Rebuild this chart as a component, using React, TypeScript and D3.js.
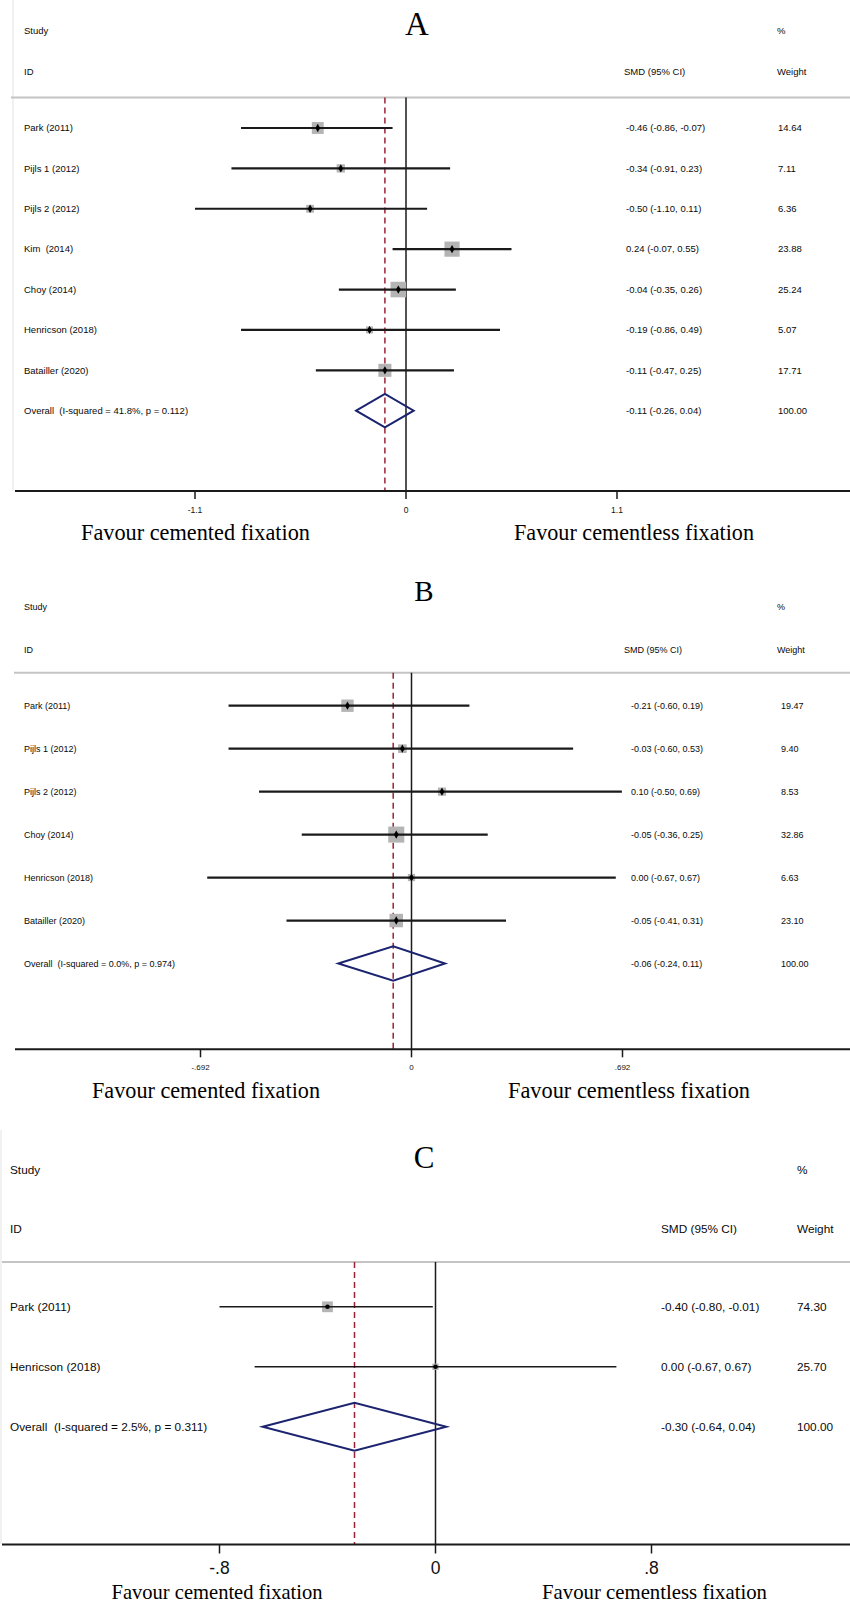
import React from "react";
import * as d3 from "d3";

// ---- data: panel A ----
const studiesA = ["Park (2011)", "Pijls 1 (2012)", "Pijls 2 (2012)", "Kim  (2014)", "Choy (2014)", "Henricson (2018)", "Batailler (2020)"];
const smdA = [-0.46, -0.34, -0.5, 0.24, -0.04, -0.19, -0.11];
const lowerA = [-0.86, -0.91, -1.1, -0.07, -0.35, -0.86, -0.47];
const upperA = [-0.07, 0.23, 0.11, 0.55, 0.26, 0.49, 0.25];
const weightA = [14.64, 7.11, 6.36, 23.88, 25.24, 5.07, 17.71];
const overallA = [-0.11, -0.26, 0.04];
const overallLabelA = "Overall  (I-squared = 41.8%, p = 0.112)";
const ticksA = [-1.1, 0, 1.1];
const tickLabelsA = ["-1.1", "0", "1.1"];

// ---- data: panel B ----
const studiesB = ["Park (2011)", "Pijls 1 (2012)", "Pijls 2 (2012)", "Choy (2014)", "Henricson (2018)", "Batailler (2020)"];
const smdB = [-0.21, -0.03, 0.1, -0.05, 0.0, -0.05];
const lowerB = [-0.6, -0.6, -0.5, -0.36, -0.67, -0.41];
const upperB = [0.19, 0.53, 0.69, 0.25, 0.67, 0.31];
const weightB = [19.47, 9.4, 8.53, 32.86, 6.63, 23.1];
const overallB = [-0.06, -0.24, 0.11];
const overallLabelB = "Overall  (I-squared = 0.0%, p = 0.974)";
const ticksB = [-0.692, 0, 0.692];
const tickLabelsB = ["-.692", "0", ".692"];

// ---- data: panel C ----
const studiesC = ["Park (2011)", "Henricson (2018)"];
const smdC = [-0.4, 0.0];
const lowerC = [-0.8, -0.67];
const upperC = [-0.01, 0.67];
const weightC = [74.3, 25.7];
const overallC = [-0.3, -0.64, 0.04];
const overallLabelC = "Overall  (I-squared = 2.5%, p = 0.311)";
const ticksC = [-0.8, 0, 0.8];
const tickLabelsC = ["-.8", "0", ".8"];

const leftLabel = "Favour cemented fixation";
const rightLabel = "Favour cementless fixation";

const SANS = "'Liberation Sans', Arial, sans-serif";
const SERIF = "'Liberation Serif', 'Times New Roman', serif";
// plain hyphen minus, like Stata prints it
const f2 = d3.formatLocale({ decimal: ".", thousands: ",", grouping: [3], currency: ["", ""], minus: "-" }).format(".2f");

type Layout = {
  title: string; titleX: number; titleY: number; titleSize: number;
  headY1: number; headY2: number; labelX: number; headSmdX: number; smdX: number; weightX: number; headWeightX: number;
  gridY: number; gridX0: number;
  rowFirst: number; rowLast: number;
  axisY: number; axisX0: number; tickLen: number; tickLabelY: number; tickFont: number;
  xRange: [number, number];
  favourY: number; favourL: [number, number]; favourR: [number, number]; favourSize: number;
  fontSize: number; boxK: number; ciWidth: number; diamondH: number; pointSize: number; pointShape: "diamond" | "circle";
  border?: [number, number, number];
};

type PanelProps = {
  studies: string[]; smd: number[]; lower: number[]; upper: number[]; weight: number[];
  overall: number[]; overallLabel: string; ticks: number[]; tickLabels: string[]; L: Layout;
};

function Panel({ studies, smd, lower, upper, weight, overall, overallLabel, ticks, tickLabels, L }: PanelProps) {
  const x = d3.scaleLinear().domain([ticks[0], ticks[ticks.length - 1]]).range(L.xRange);
  const rows = d3.range(studies.length + 1);
  const y = d3.scalePoint<number>().domain(rows).range([L.rowFirst, L.rowLast]);
  const yOverall = y(studies.length) as number;
  const sym = d3.symbol().type(L.pointShape === "diamond" ? d3.symbolDiamond : d3.symbolCircle).size(L.pointSize);
  const diamond = d3.line()([
    [x(overall[1]), yOverall],
    [x(overall[0]), yOverall - L.diamondH],
    [x(overall[2]), yOverall],
    [x(overall[0]), yOverall + L.diamondH],
  ]) + "Z";
  const txt = { fontFamily: SANS, fontSize: L.fontSize, fill: "#0a0a0a", whiteSpace: "pre" as const };

  return (
    <g>
      {L.border && <line x1={L.border[0]} x2={L.border[0]} y1={L.border[1]} y2={L.border[2]} stroke="#ececec" strokeWidth={1.5} />}
      <text x={L.titleX} y={L.titleY} textAnchor="middle" fontFamily={SERIF} fontSize={L.titleSize} fill="#000">{L.title}</text>

      <text x={L.labelX} y={L.headY1} dy="0.35em" style={txt}>Study</text>
      <text x={L.headWeightX} y={L.headY1} dy="0.35em" style={txt}>%</text>
      <text x={L.labelX} y={L.headY2} dy="0.35em" style={txt}>ID</text>
      <text x={L.headSmdX} y={L.headY2} dy="0.35em" style={txt}>SMD (95% CI)</text>
      <text x={L.headWeightX} y={L.headY2} dy="0.35em" style={txt}>Weight</text>

      <line x1={L.gridX0} x2={850} y1={L.gridY} y2={L.gridY} stroke="#c4c4c4" strokeWidth={2} />

      {/* no-effect line and overall dashed line */}
      <line x1={x(0)} x2={x(0)} y1={L.gridY} y2={L.axisY} stroke="#1a1a1a" strokeWidth={1.5} />
      <line x1={x(overall[0])} x2={x(overall[0])} y1={L.gridY} y2={L.axisY} stroke="#9b2335" strokeWidth={1.5} strokeDasharray="6,4" />

      {studies.map((s, i) => {
        const yy = y(i) as number;
        const side = L.boxK * Math.sqrt(weight[i]);
        return (
          <g key={s}>
            <text x={L.labelX} y={yy} dy="0.35em" style={txt}>{s}</text>
            <rect x={x(smd[i]) - side / 2} y={yy - side / 2} width={side} height={side} fill="#b4b4b4" />
            <line x1={x(lower[i])} x2={x(upper[i])} y1={yy} y2={yy} stroke="#1a1a1a" strokeWidth={L.ciWidth} />
            <path d={sym() as string} transform={`translate(${x(smd[i])},${yy})`} fill="#000" />
            <text x={L.smdX} y={yy} dy="0.35em" style={txt}>{`${f2(smd[i])} (${f2(lower[i])}, ${f2(upper[i])})`}</text>
            <text x={L.weightX} y={yy} dy="0.35em" style={txt}>{f2(weight[i])}</text>
          </g>
        );
      })}

      <text x={L.labelX} y={yOverall} dy="0.35em" style={txt}>{overallLabel}</text>
      <path d={diamond} fill="none" stroke="#1c2470" strokeWidth={2} />
      <text x={L.smdX} y={yOverall} dy="0.35em" style={txt}>{`${f2(overall[0])} (${f2(overall[1])}, ${f2(overall[2])})`}</text>
      <text x={L.weightX} y={yOverall} dy="0.35em" style={txt}>{f2(100)}</text>

      {/* x axis */}
      <line x1={L.axisX0} x2={850} y1={L.axisY} y2={L.axisY} stroke="#1a1a1a" strokeWidth={2} />
      {ticks.map((t, i) => (
        <g key={t}>
          <line x1={x(t)} x2={x(t)} y1={L.axisY} y2={L.axisY + L.tickLen} stroke="#1a1a1a" strokeWidth={1.5} />
          <text x={x(t)} y={L.tickLabelY} dy="0.35em" textAnchor="middle" fontFamily={SANS} fontSize={L.tickFont} fill="#111">{tickLabels[i]}</text>
        </g>
      ))}

      <text x={L.favourL[0]} y={L.favourY} dy="0.35em" textAnchor="middle" fontFamily={SERIF} fontSize={L.favourSize}
        textLength={L.favourL[1]} lengthAdjust="spacingAndGlyphs" fill="#000">{leftLabel}</text>
      <text x={L.favourR[0]} y={L.favourY} dy="0.35em" textAnchor="middle" fontFamily={SERIF} fontSize={L.favourSize}
        textLength={L.favourR[1]} lengthAdjust="spacingAndGlyphs" fill="#000">{rightLabel}</text>
    </g>
  );
}

const layoutA: Layout = {
  title: "A", titleX: 417, titleY: 35, titleSize: 33,
  headY1: 31, headY2: 72, labelX: 24, headSmdX: 624, smdX: 626, weightX: 778, headWeightX: 777,
  gridY: 97.5, gridX0: 11, rowFirst: 128, rowLast: 410.7,
  axisY: 491, axisX0: 15, tickLen: 8, tickLabelY: 510, tickFont: 8.5,
  xRange: [195, 617],
  favourY: 532, favourL: [195.5, 229], favourR: [634, 240], favourSize: 22.5,
  fontSize: 9.5, boxK: 3.1, ciWidth: 2.2, diamondH: 16.7, pointSize: 20, pointShape: "diamond",
  border: [13, 0, 491],
};

const layoutB: Layout = {
  title: "B", titleX: 424, titleY: 601, titleSize: 29,
  headY1: 607, headY2: 650, labelX: 24, headSmdX: 624, smdX: 631, weightX: 781, headWeightX: 777,
  gridY: 672.7, gridX0: 14, rowFirst: 705.7, rowLast: 963.5,
  axisY: 1049.3, axisX0: 15, tickLen: 8, tickLabelY: 1067, tickFont: 8,
  xRange: [200.5, 622.5],
  favourY: 1090, favourL: [206, 228], favourR: [629, 242], favourSize: 22.5,
  fontSize: 9, boxK: 2.8, ciWidth: 2.2, diamondH: 17.3, pointSize: 20, pointShape: "diamond",
};

const layoutC: Layout = {
  title: "C", titleX: 424, titleY: 1168, titleSize: 31,
  headY1: 1170, headY2: 1229, labelX: 10, headSmdX: 661, smdX: 661, weightX: 797, headWeightX: 797,
  gridY: 1262, gridX0: 2, rowFirst: 1306.8, rowLast: 1426.7,
  axisY: 1544.5, axisX0: 2, tickLen: 9, tickLabelY: 1568, tickFont: 17.5,
  xRange: [219.5, 651.5],
  favourY: 1591, favourL: [217, 211], favourR: [654.5, 225], favourSize: 21.5,
  fontSize: 11.8, boxK: 1.25, ciWidth: 1.4, diamondH: 24, pointSize: 16, pointShape: "circle",
  border: [1, 1130, 1544],
};

export default function App() {
  return (
    <svg width={850} height={1603} style={{ position: "absolute", left: 0, top: 0, background: "#fff" }}>
      <rect width={850} height={1603} fill="#fff" />
      <Panel studies={studiesA} smd={smdA} lower={lowerA} upper={upperA} weight={weightA} overall={overallA}
        overallLabel={overallLabelA} ticks={ticksA} tickLabels={tickLabelsA} L={layoutA} />
      <Panel studies={studiesB} smd={smdB} lower={lowerB} upper={upperB} weight={weightB} overall={overallB}
        overallLabel={overallLabelB} ticks={ticksB} tickLabels={tickLabelsB} L={layoutB} />
      <Panel studies={studiesC} smd={smdC} lower={lowerC} upper={upperC} weight={weightC} overall={overallC}
        overallLabel={overallLabelC} ticks={ticksC} tickLabels={tickLabelsC} L={layoutC} />
    </svg>
  );
}
